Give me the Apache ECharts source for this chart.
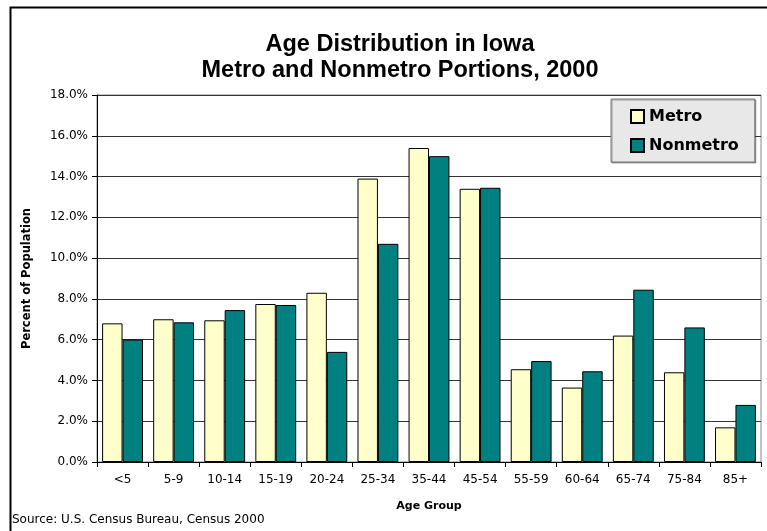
<!DOCTYPE html>
<html>
<head>
<meta charset="utf-8">
<script src="https://cdn.jsdelivr.net/npm/echarts@6/dist/echarts.min.js"></script>
<style>
  html, body { margin: 0; padding: 0; background: #fff; }
  #chart { width: 767px; height: 531px; }
</style>
</head>
<body>
<div id="chart"></div>
<script>
// age groups along the x axis
let ageGroups = ["<5", "5-9", "10-14", "15-19", "20-24", "25-34", "35-44", "45-54", "55-59", "60-64", "65-74", "75-84", "85+"];
// percent of population
let metro    = [6.8, 7.0, 6.95, 7.75, 8.3, 13.9, 15.4, 13.4, 4.55, 3.65, 6.2, 4.4, 1.7];
let nonmetro = [6.0, 6.85, 7.45, 7.7, 5.4, 10.7, 15.0, 13.45, 4.95, 4.45, 8.45, 6.6, 2.8];
let seriesNames = ["Metro", "Nonmetro"];

let myChar = echarts.init(document.getElementById("chart"));
let labelFont = "DejaVu Sans";

myChar.setOption({
    animation: false,
    title: {
        text: "Age Distribution in Iowa\nMetro and Nonmetro Portions, 2000",
        left: 395,
        textAlign: "center",
        top: 27,
        textStyle: {
            fontFamily: "Liberation Sans",
            fontWeight: "bold",
            fontSize: 23.5,
            lineHeight: 26,
            color: "#000"
        }
    },
    legend: {
        data: seriesNames,
        orient: "vertical",
        left: 611,
        top: 99,
        itemWidth: 13,
        itemHeight: 13,
        itemGap: 10,
        padding: [8, 16, 7, 19],
        backgroundColor: "#e8e8e8",
        borderColor: "#777",
        borderWidth: 1,
        shadowColor: "rgba(0,0,0,0.35)",
        shadowOffsetX: 1,
        shadowOffsetY: 1,
        icon: "rect",
        textStyle: {
            fontFamily: labelFont,
            fontWeight: "bold",
            fontSize: 16,
            color: "#000",
            lineHeight: 19
        }
    },
    grid: {
        left: 97,
        top: 95,
        right: 6,
        bottom: 69,
        show: true,
        borderColor: "#888",
        borderWidth: 1
    },
    xAxis: {
        type: "category",
        data: ageGroups,
        name: "Age Group",
        nameLocation: "middle",
        nameGap: 39,
        nameTextStyle: {
            fontFamily: labelFont,
            fontWeight: "bold",
            fontSize: 11,
            color: "#000"
        },
        axisLine: { lineStyle: { color: "#000", width: 1 } },
        axisTick: { show: true, length: 5, lineStyle: { color: "#000" } },
        axisLabel: {
            fontFamily: labelFont,
            fontSize: 12,
            color: "#000",
            margin: 12
        }
    },
    yAxis: {
        type: "value",
        min: 0,
        max: 18,
        interval: 2,
        name: "Percent of Population",
        nameLocation: "middle",
        nameGap: 64,
        nameTextStyle: {
            fontFamily: labelFont,
            fontWeight: "bold",
            fontSize: 11.5,
            color: "#000"
        },
        axisLine: { show: true, lineStyle: { color: "#000", width: 1 } },
        axisTick: { show: true, length: 5, lineStyle: { color: "#000" } },
        axisLabel: {
            fontFamily: labelFont,
            fontSize: 12,
            color: "#000",
            margin: 9,
            formatter: (v) => v.toFixed(1) + "%"
        },
        splitLine: { lineStyle: { color: "#333", width: 1 } }
    },
    series: [
        {
            name: seriesNames[0],
            type: "bar",
            data: metro,
            barGap: "0%",
            barCategoryGap: "20%",
            itemStyle: { color: "#ffffcc", borderColor: "#000", borderWidth: 1 }
        },
        {
            name: seriesNames[1],
            type: "bar",
            data: nonmetro,
            itemStyle: { color: "#008080", borderColor: "#000", borderWidth: 1 }
        }
    ],
    graphic: [
        {
            type: "rect",
            left: 8,
            top: 5,
            shape: { width: 900, height: 900 },
            style: { fill: null, stroke: "#000", lineWidth: 2 },
            silent: true
        },
        {
            type: "text",
            left: 12,
            top: 514,
            style: {
                text: "Source: U.S. Census Bureau, Census 2000",
                fontFamily: labelFont,
                fontSize: 12,
                fill: "#000"
            }
        }
    ]
});
</script>
</body>
</html>
